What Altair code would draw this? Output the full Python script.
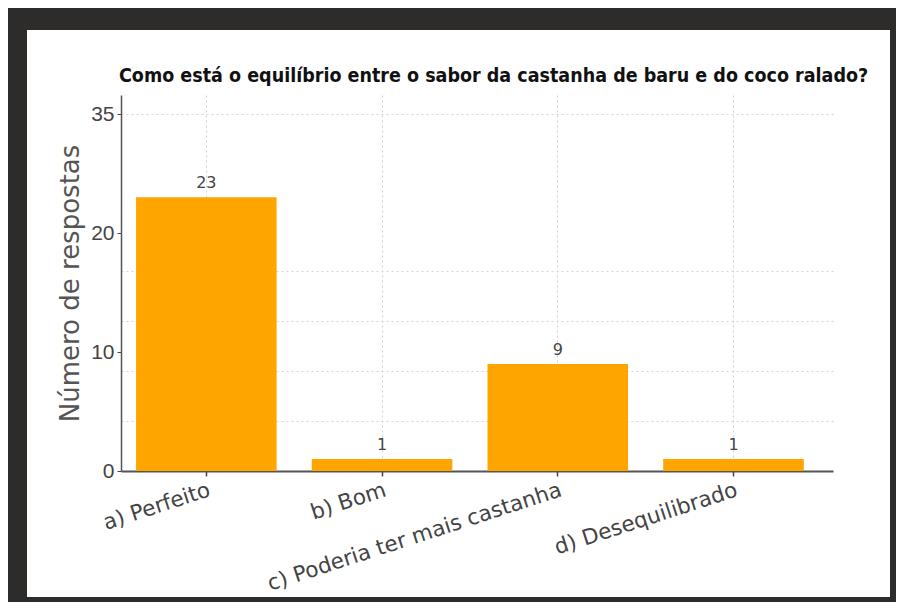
import altair as alt
import pandas as pd

categories = ["a) Perfeito", "b) Bom", "c) Poderia ter mais castanha", "d) Desequilibrado"]
respostas = [23, 1, 9, 1]
y_ticks = [0, 10, 20, 30]
grid_vals = [4.2, 8.4, 12.6, 16.8, 30]

title_text = "Como está o equilíbrio entre o sabor da castanha de baru e do coco ralado?"
y_title = "Número de respostas"

df = pd.DataFrame({"cat": categories, "n": respostas})

x_enc = alt.X(
    "cat:N", sort=categories, title=None,
    scale=alt.Scale(paddingInner=0.2, paddingOuter=0.126, align=0.34),
    axis=alt.Axis(
        labelAngle=342, labelAlign="right", labelBaseline="top",
        labelFont="DejaVu Sans", labelFontSize=21.5, labelColor="#444",
        labelPadding=3, tickSize=5, tickColor="#444", tickWidth=1.5,
        domainColor="#555", domainWidth=2, bandPosition=0.5,
        grid=True, gridColor="#d0d0d0", gridDash=[2, 3], gridWidth=1,
        labelLimit=0,
    ),
)

y_scale = alt.Scale(domain=[0, 31.6], nice=False)

bars = alt.Chart(df).mark_bar(color="#FFA500").encode(
    x=x_enc,
    y=alt.Y(
        "n:Q", scale=y_scale, title=y_title,
        axis=alt.Axis(
            values=y_ticks, grid=False,
            labelExpr="datum.value == 30 ? '35' : datum.label",
            labelFont="Liberation Sans", labelFontSize=21, labelColor="#444",
            labelPadding=3, tickSize=4, tickColor="#444",
            domainColor="#555", domainWidth=1.5,
            titleFont="DejaVu Sans", titleFontSize=26, titleFontWeight="normal",
            titleColor="#555", titlePadding=7,
        ),
    ),
)

labels = alt.Chart(df).mark_text(
    baseline="bottom", dy=-6, font="DejaVu Sans", fontSize=16, color="#444"
).encode(
    x=alt.X("cat:N", sort=categories),
    y=alt.Y(
        "n:Q", scale=y_scale, title=None,
        axis=alt.Axis(
            orient="right", values=grid_vals, grid=True, gridColor="#d5d5d5",
            gridDash=[2, 3], labels=False, ticks=False, domain=False,
        ),
    ),
    text="n:Q",
)

frame = alt.Chart(pd.DataFrame({"k": [0]})).mark_rect(
    fillOpacity=0, stroke="#2e2b2b", strokeWidth=40
).encode(
    x=alt.value(-114), x2=alt.value(789), y=alt.value(-85), y2=alt.value(522)
)

chart = alt.layer(bars, labels, frame).resolve_axis(y="independent").properties(
    width=712,
    height=376,
    autosize=alt.AutoSizeParams(type="none"),
    padding={"left": 113, "top": 87, "right": 63, "bottom": 131},
    title=alt.TitleParams(
        title_text,
        font="'DejaVu Sans Condensed', 'Liberation Sans Narrow', 'Roboto Condensed', 'Arial Narrow', sans-serif",
        fontWeight="bold", fontSize=19.5, color="#111", anchor="start", frame="group",
        dx=-2, dy=109, offset=13,
    ),
).configure(background="white").configure_view(stroke=None)

chart.save("out.html", embed_options={"renderer": "svg", "actions": False})
